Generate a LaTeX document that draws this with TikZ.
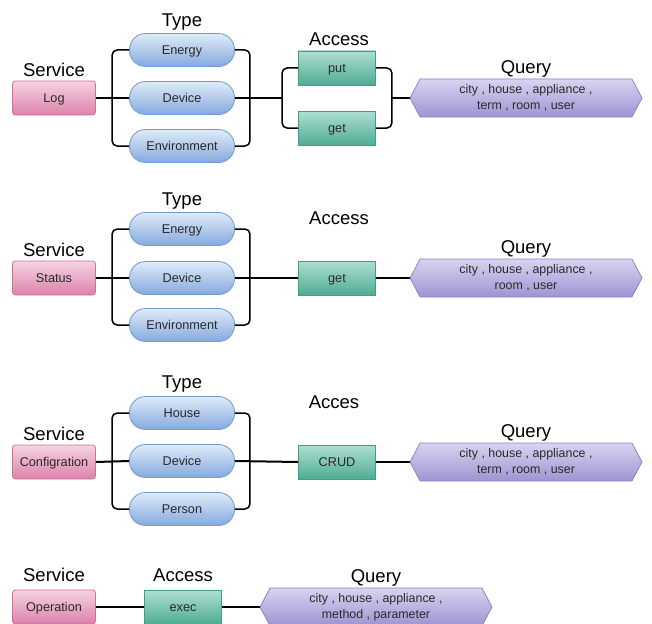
\documentclass[tikz,border=0pt]{standalone}
\usepackage{fontspec}
\setmainfont{Liberation Sans}
\usetikzlibrary{shapes.symbols}
\definecolor{svcB}{HTML}{D46E9A}
\definecolor{svcT}{HTML}{F5D3E2}
\definecolor{svcD}{HTML}{DC82AA}
\definecolor{typB}{HTML}{6E9BD6}
\definecolor{typT}{HTML}{E0EBF9}
\definecolor{typD}{HTML}{84A9DE}
\definecolor{accB}{HTML}{3F9E86}
\definecolor{accT}{HTML}{AEDFD2}
\definecolor{accD}{HTML}{4FAC93}
\definecolor{qryB}{HTML}{8C83C9}
\definecolor{qryT}{HTML}{D8D4F0}
\definecolor{qryD}{HTML}{9D94D2}
\definecolor{txt}{HTML}{2A2A2A}
\tikzset{
  lbl/.style={inner sep=1pt, text=txt, text height=9pt, text depth=0.5pt, font=\fontsize{12.7}{14}\selectfont},
  svc/.style={lbl, draw=svcB, line width=0.8pt, rounded corners=3pt, top color=svcT, bottom color=svcD,
    minimum width=83pt, minimum height=34pt},
  typ/.style={lbl, draw=typB, line width=0.8pt, rounded corners=16pt, top color=typT, bottom color=typD,
    minimum width=105pt, minimum height=33pt},
  acc/.style={lbl, draw=accB, line width=0.8pt, top color=accT, bottom color=accD,
    minimum width=77pt, minimum height=34pt},
  qry/.style={signal, signal to=west and east, signal pointer angle=124, draw=qryB, line width=0.8pt,
    top color=qryT, bottom color=qryD, minimum width=232pt, minimum height=38pt, inner sep=1pt,
    align=center, text=txt, font=\fontsize{12.4}{16}\selectfont},
  ttl/.style={anchor=base, inner sep=0pt, text=black, font=\fontsize{18.5}{21}\selectfont},
  wire/.style={line width=1.5pt, rounded corners=5pt},
  main/.style={line width=2pt},
}
\begin{document}
\begin{tikzpicture}[x=1pt,y=-1pt]
\clip (0,0) rectangle (652,623);
\fill[white] (0,0) rectangle (652,623);

% ---------- Row 1 ----------
\node[ttl] (t1s) at (54,77) {Service};
\node[ttl] (t1t) at (182,27) {Type};
\node[ttl] (t1a) at (339,46) {Access};
\node[ttl] (t1q) at (526,74) {Query};
\node[svc] (log) at (54,98) {Log};
\node[typ] (e1) at (182,50) {Energy};
\node[typ] (d1) at (182,98) {Device};
\node[typ] (v1) at (182,146) {Environment};
\node[acc] (put1) at (337,68) {put};
\node[acc] (get1) at (337,128) {get};
\node[qry] (q1) at (526,98) {city , house , appliance ,\\ term , room , user};
\coordinate (j1) at (283,98);
\coordinate (k1) at (392,98);
\draw[main] (log.east) -- (d1.west);
\draw[wire] (e1.west) -- ++(-17,0) |- (v1.west);
\draw[wire] (e1.east) -- ++(15,0) |- (v1.east);
\draw[main] (d1.east) -- (j1);
\draw[wire] (put1.west) -- ++(-16,0) |- (get1.west);
\draw[wire] (put1.east) -- ++(16,0) |- (get1.east);
\draw[main] (k1) -- (q1.west);

% ---------- Row 2 ----------
\node[ttl] (t2s) at (54,256) {Service};
\node[ttl] (t2t) at (182,205) {Type};
\node[ttl] (t2a) at (339,224) {Access};
\node[ttl] (t2q) at (526,253) {Query};
\node[svc] (status) at (54,278) {Status};
\node[typ] (e2) at (182,229) {Energy};
\node[typ] (d2) at (182,278) {Device};
\node[typ] (v2) at (182,325) {Environment};
\node[acc] (get2) at (337,278) {get};
\node[qry] (q2) at (526,278) {city , house , appliance ,\\ room , user};
\draw[main] (status.east) -- (d2.west);
\draw[wire] (e2.west) -- ++(-17,0) |- (v2.west);
\draw[wire] (e2.east) -- ++(15,0) |- (v2.east);
\draw[main] (d2.east) -- (get2.west);
\draw[main] (get2.east) -- (q2.west);

% ---------- Row 3 ----------
\node[ttl] (t3s) at (54,440) {Service};
\node[ttl] (t3t) at (182,388) {Type};
\node[ttl] (t3a) at (334,408) {Acces};
\node[ttl] (t3q) at (526,437) {Query};
\node[svc] (conf) at (54,462) {Configration};
\node[typ] (h3) at (182,413) {House};
\node[typ] (d3) at (182,461) {Device};
\node[typ] (p3) at (182,509) {Person};
\node[acc] (crud) at (337,462) {CRUD};
\node[qry] (q3) at (526,462) {city , house , appliance ,\\ term , room , user};
\draw[main] (conf.east) -- (d3.west);
\draw[wire] (h3.west) -- ++(-17,0) |- (p3.west);
\draw[wire] (h3.east) -- ++(15,0) |- (p3.east);
\draw[main] (d3.east) -- (crud.west);
\draw[main] (crud.east) -- (q3.west);

% ---------- Row 4 ----------
\node[ttl] (t4s) at (54,581) {Service};
\node[ttl] (t4a) at (183,581) {Access};
\node[ttl] (t4q) at (376,582) {Query};
\node[svc] (op) at (54,607) {Operation};
\node[acc] (exec) at (183,607) {exec};
\node[qry] (q4) at (376,607) {city , house , appliance ,\\ method , parameter};
\draw[main, line width=2.5pt] (op.east) -- (exec.west);
\draw[main] (exec.east) -- (q4.west);
\end{tikzpicture}
\end{document}
